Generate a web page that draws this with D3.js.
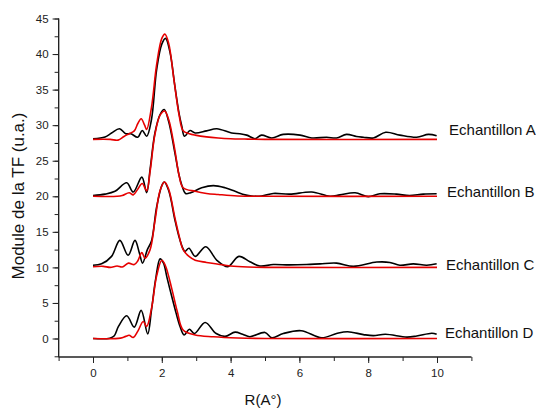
<!DOCTYPE html>
<html><head><meta charset="utf-8">
<script src="https://cdn.jsdelivr.net/npm/d3@7"></script>
<style>body{margin:0;background:#fff}svg{display:block}text{font-family:Arial,"Liberation Sans",sans-serif}</style>
</head><body><svg id="c" width="536" height="408"></svg>
<script>
const labels = ["Echantillon A","Echantillon B","Echantillon C","Echantillon D"];
const xTicks = [0,2,4,6,8,10];
const yTicks = [0,5,10,15,20,25,30,35,40,45];

const aBlack = [[0,28.1],[0.35,28.35],[0.54,28.9],[0.77,29.5],[0.95,28.8],[1.1,28.8],[1.3,28.3],[1.43,29.25],[1.56,28.45],[1.7,30.8],[1.85,37.8],[2.0,41.4],[2.11,42.2],[2.24,40.2],[2.38,35.5],[2.5,31.7],[2.58,29.9],[2.66,28.45],[2.82,29.25],[2.97,28.9],[3.3,29.2],[3.6,29.5],[4.03,28.9],[4.27,28.8],[4.47,28.6],[4.71,28.1],[4.9,28.6],[5.2,28.2],[5.53,28.7],[6.02,28.6],[6.36,28.2],[6.79,28.3],[7.08,28.2],[7.37,28.7],[7.66,28.4],[7.86,28.3],[8.15,28.2],[8.51,29.0],[8.92,28.6],[9.41,28.3],[9.75,28.7],[9.99,28.5]];
const aRed = [[0,28],[0.5,28.0],[0.73,27.9],[0.9,28.4],[1.05,28.8],[1.2,29.2],[1.3,30.2],[1.4,30.9],[1.5,30.0],[1.56,29.4],[1.7,32.5],[1.85,38.5],[2.0,42.2],[2.09,42.8],[2.2,41.5],[2.35,36.5],[2.5,31.5],[2.62,29.2],[2.8,28.8],[2.97,28.6],[3.3,28.35],[3.64,28.2],[4.0,28.1],[4.4,28.05],[5,28.0],[10,28.0]];
const bBlack = [[0,20.1],[0.35,20.3],[0.64,20.7],[0.98,21.9],[1.17,20.6],[1.42,22.7],[1.56,20.5],[1.66,23.8],[1.8,28.9],[1.95,31.5],[2.07,32.2],[2.2,30.5],[2.38,26.1],[2.5,23.0],[2.58,21.6],[2.69,20.4],[2.84,20.5],[3.16,21.2],[3.5,21.5],[3.84,21.2],[4.13,20.7],[4.35,20.3],[4.61,20.05],[4.9,20.05],[5.24,20.4],[5.72,20.3],[6.36,20.6],[6.89,20.0],[7.18,20.2],[7.62,20.5],[8.0,19.95],[8.34,20.35],[8.82,20.3],[9.2,20.1],[9.6,20.3],[9.99,20.35]];
const bRed = [[0,20],[0.7,20.0],[0.85,20.1],[1.05,20.5],[1.17,20.2],[1.3,21.0],[1.43,21.8],[1.56,20.8],[1.66,23.5],[1.8,28.7],[1.95,31.4],[2.08,32.0],[2.2,30.8],[2.38,26.5],[2.5,23.0],[2.62,21.2],[2.97,20.7],[3.3,20.4],[3.64,20.25],[4.2,20.05],[5,20],[10,20]];
const cBlack = [[0,10.3],[0.25,10.5],[0.54,11.55],[0.78,13.8],[1.02,11.7],[1.22,13.8],[1.35,12.0],[1.44,10.6],[1.58,12.5],[1.7,13.7],[1.85,18.5],[2.0,21.5],[2.07,22.0],[2.2,20.8],[2.38,16.7],[2.5,14.3],[2.61,12.7],[2.67,12.25],[2.79,12.7],[2.97,11.55],[3.28,12.9],[3.6,11.0],[3.92,10.1],[4.24,11.55],[4.56,10.8],[4.85,10.2],[5.24,10.4],[5.7,10.35],[6.21,10.4],[6.6,10.5],[7.08,10.6],[7.57,10.15],[8.25,10.75],[8.63,10.7],[8.92,10.3],[9.31,10.5],[9.7,10.3],[9.99,10.5]];
const cRed = [[0,10.1],[0.3,10.15],[0.5,10.0],[0.7,10.2],[0.85,10.05],[1.03,10.6],[1.2,10.4],[1.3,10.9],[1.42,12.1],[1.51,11.3],[1.66,12.5],[1.8,16.5],[1.95,20.8],[2.08,22.0],[2.2,21.0],[2.38,17.0],[2.5,14.5],[2.62,12.5],[2.8,11.5],[2.97,11.0],[3.3,10.7],[3.64,10.45],[4.0,10.2],[4.5,10.05],[5,10.0],[10,10.0]];
const dBlack = [[0,0],[0.49,0.05],[0.62,0.4],[0.74,1.7],[0.98,3.2],[1.2,1.6],[1.4,3.95],[1.59,0.65],[1.7,4.0],[1.82,8.3],[1.95,11.2],[2.05,10.6],[2.15,8.6],[2.29,5.9],[2.42,3.5],[2.53,1.7],[2.65,0.5],[2.8,1.3],[2.95,0.7],[3.26,2.25],[3.58,0.7],[3.84,0.3],[4.13,0.9],[4.35,0.6],[4.56,0.25],[5.0,0.85],[5.2,0.1],[5.53,0.7],[6.05,1.1],[6.65,0.1],[7.08,0.7],[7.4,0.95],[7.86,0.55],[8.15,0.4],[8.5,0.6],[9.12,0.2],[9.41,0.35],[9.85,0.75],[9.99,0.6]];
const dRed = [[0,0],[0.8,0.05],[0.95,0.3],[1.05,0.45],[1.17,0.15],[1.3,1.0],[1.46,2.4],[1.56,1.7],[1.7,4.2],[1.85,8.8],[2.0,11.0],[2.1,10.3],[2.3,6.8],[2.45,3.8],[2.62,1.2],[2.97,0.5],[3.5,0.25],[4.2,0.08],[5,0],[10,0]];

const blackSeries = [aBlack,bBlack,cBlack,dBlack];
const redSeries = [aRed,bRed,cRed,dRed];
const labelY = [28.66,19.94,9.63,0.03];
const labelX = [10.35,10.29,10.26,10.23];

const svg = d3.select("#c");
const x = d3.scaleLinear().domain([-1,11]).range([58.6,471.4]);
const y = d3.scaleLinear().domain([-2.6,45]).range([357,18.5]);

const line = d3.line().x(d=>x(d[0])).y(d=>y(d[1])).curve(d3.curveCatmullRom.alpha(0.5));

// axes
const xAxis = svg.append("g").attr("transform",`translate(0,${y(-2.6)})`);
xAxis.call(d3.axisBottom(x).tickValues(d3.range(-1,11.01,1)).tickSize(4).tickFormat(""));
xAxis.call(g=>g.append("g").call(d3.axisBottom(x).tickValues(xTicks).tickSize(6).tickPadding(6).tickFormat(d3.format("d"))));
const yAxis = svg.append("g").attr("transform",`translate(${x(-1)},0)`);
yAxis.call(d3.axisLeft(y).tickValues(d3.range(-2.5,45.01,2.5)).tickSize(4).tickFormat(""));
yAxis.call(g=>g.append("g").call(d3.axisLeft(y).tickValues(yTicks).tickSize(6).tickPadding(4).tickFormat(d3.format("d"))));
svg.selectAll(".domain").attr("stroke","#222").attr("stroke-width",1.2);
svg.selectAll(".tick line").attr("stroke","#222");
svg.selectAll(".tick text").attr("font-size","11.5px").attr("fill","#222").attr("font-family","Arial, 'Liberation Sans', sans-serif");
xAxis.selectAll(".domain").attr("d",`M${x(-1)},0H${x(11)}`);
yAxis.selectAll(".domain").attr("d",`M0,${y(-2.6)}V${y(45)}`);

// curves
svg.append("g").selectAll("path").data(blackSeries).join("path")
  .attr("d",line).attr("fill","none").attr("stroke","#000").attr("stroke-width",1.6);
svg.append("g").selectAll("path").data(redSeries).join("path")
  .attr("d",line).attr("fill","none").attr("stroke","#e60000").attr("stroke-width",1.6);

// labels
svg.append("g").selectAll("text").data(labels).join("text")
  .attr("x",(d,i)=>x(labelX[i])).attr("y",(d,i)=>y(labelY[i]))
  .attr("font-size","15px").attr("fill","#111").text(d=>d);

// titles
svg.append("text").attr("x",(x(-1)+x(11))/2 - 2).attr("y",405).attr("text-anchor","middle")
  .attr("font-size","15px").attr("fill","#111").text("R(A°)");
svg.append("text").attr("transform",`translate(24,${196}) rotate(-90)`).attr("text-anchor","middle")
  .attr("font-size","17px").attr("fill","#111").text("Module de la TF (u.a.)");
</script></body></html>
